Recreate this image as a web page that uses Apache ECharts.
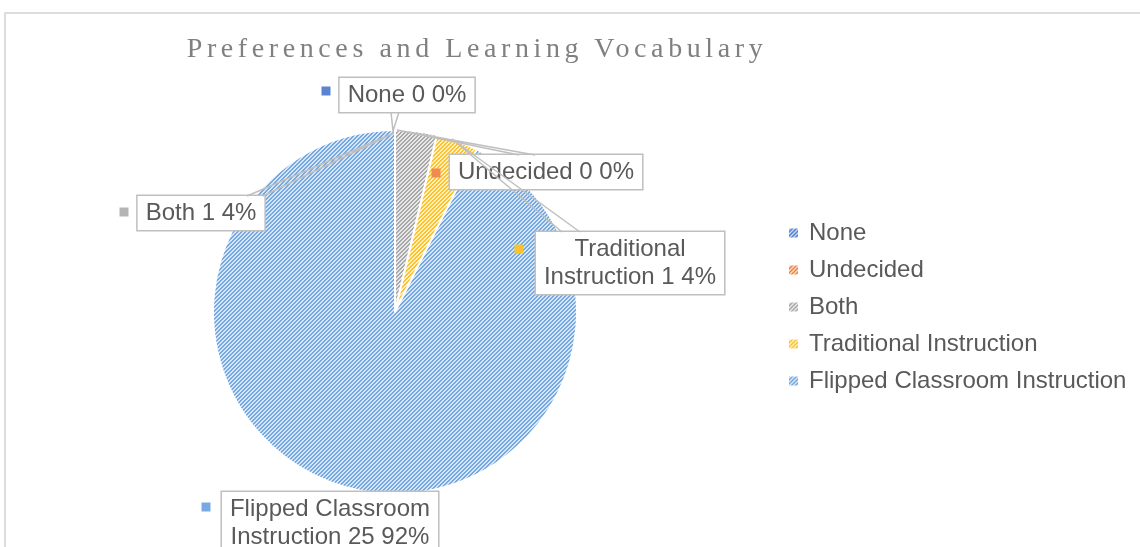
<!DOCTYPE html>
<html><head><meta charset="utf-8">
<script src="https://cdn.jsdelivr.net/npm/echarts@6/dist/echarts.min.js"></script>
<style>
html,body{margin:0;padding:0;background:#fff;overflow:hidden;width:1140px;height:547px}
#frame{position:absolute;left:4px;top:12px;width:1200px;height:600px;border-top:2px solid #dcdcdc;border-left:2px solid #dcdcdc;}
#chart{position:absolute;left:0;top:0;width:1140px;height:547px}
#title{position:absolute;left:0;top:34px;width:954px;text-align:center;font:28px/28px "Liberation Serif";letter-spacing:4.6px;color:#808080;white-space:nowrap}
</style></head><body>
<div id="frame"></div>
<div id="chart"></div>
<div id="title"></div>
<script>
const titleText = 'Preferences and Learning Vocabulary';
const categories = ['None', 'Undecided', 'Both', 'Traditional Instruction', 'Flipped Classroom Instruction'];
const counts = [0, 0, 1, 1, 25];

// styles
const hatchFg = ['#4f7fd0', '#ee8040', '#a8a8a8', '#fcc226', '#74a8e0'];
const hatchBg = ['#c9d7f0', '#fadccb', '#e8e8e8', '#fff0c4', '#d6e6f7'];
const keyColors = ['#5a84cf', '#ef8a52', '#b4b4b4', '#fbc42e', '#78aae1'];
const labelBoxes = [[407, 78], [546, 155], [201, 196], [630, 232], [330, 492]];
const keyPos = [[326, 91], [436, 173], [124, 212], [519, 249], [206, 507]];
// callout pointers: [base point 1, tip, base point 2]
const pointers = [
  [[391, 112], [393, 131], [399, 112]],
  [[519, 155], [397, 130], [535, 155]],
  [[247, 196], [394, 133], [263, 196]],
  [[562, 232], [452, 139], [580, 232]],
  [[330, 492], [330, 492], [330, 492]]
];

document.getElementById('title').textContent = titleText;

function hatch(fg, bg) {
  const c = document.createElement('canvas');
  c.width = c.height = 8;
  const g = c.getContext('2d');
  g.fillStyle = bg; g.fillRect(0, 0, 8, 8);
  g.fillStyle = fg;
  for (let y = 0; y < 8; y++) for (let x = 0; x < 8; x++) if (((x + y) % 4) < 2) g.fillRect(x, y, 1, 1);
  return c;
}

const chart = echarts.init(document.getElementById('chart'), null, {renderer: 'canvas'});
const font = 'Liberation Sans';
chart.setOption({
  animation: false,
  legend: {
    orient: 'vertical', left: 787, top: 221, padding: 0, itemWidth: 11, itemHeight: 11, itemGap: 13,
    icon: 'rect', selectedMode: false, data: categories,
    textStyle: {color: '#595959', fontFamily: font, fontSize: 24, padding: [0, 0, 0, 5]}
  },
  series: [{
    type: 'pie', center: [395, 312], radius: 182, startAngle: 90, clockwise: true,
    avoidLabelOverlap: false, percentPrecision: 0,
    emphasis: {disabled: true},
    itemStyle: {borderColor: '#fff', borderWidth: 2},
    data: categories.map((n, i) => ({
      name: n, value: counts[i],
      itemStyle: {color: {image: hatch(hatchFg[i], hatchBg[i]), repeat: 'repeat'}}
    })),
    label: {
      show: true, position: 'outside',
      formatter: p => p.name.replace(/ (\S+)$/, '\n$1') + ' ' + p.value + ' ' + p.percent + '%',
      color: '#595959', fontFamily: font, fontSize: 24, lineHeight: 28,
      backgroundColor: '#fff', borderColor: '#bfbfbf', borderWidth: 1.5, padding: [3, 8], align: 'center'
    },
    labelLine: {show: false},
    labelLayout: p => ({
      x: labelBoxes[p.dataIndex][0], y: labelBoxes[p.dataIndex][1],
      align: 'center', verticalAlign: 'top'
    })
  }, {
    type: 'pie', center: [395, 312], radius: 182, startAngle: 90, clockwise: true, z: 3,
    avoidLabelOverlap: false, silent: true, emphasis: {disabled: true},
    itemStyle: {color: 'rgba(0,0,0,0)', borderWidth: 0},
    data: categories.map((n, i) => ({
      name: n, value: counts[i],
      label: {formatter: '{k|}', rich: {k: {width: 9, height: 9, backgroundColor: keyColors[i]}}}
    })),
    label: {show: true, position: 'outside'},
    labelLine: {show: true, length: 10, length2: 10, lineStyle: {color: '#bfbfbf', width: 1.5}},
    labelLayout: p => ({
      x: keyPos[p.dataIndex][0], y: keyPos[p.dataIndex][1], align: 'center', verticalAlign: 'middle',
      labelLinePoints: pointers[p.dataIndex]
    })
  }]
});
</script>
</body></html>
